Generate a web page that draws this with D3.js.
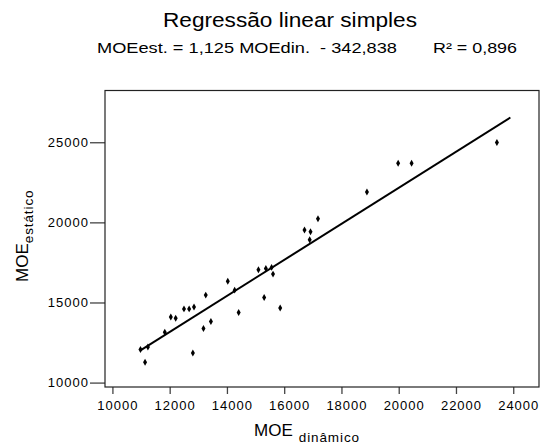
<!DOCTYPE html>
<html>
<head>
<meta charset="utf-8">
<script src="https://cdn.jsdelivr.net/npm/d3@7"></script>
<style>
  body { margin: 0; background: #fff; }
  text { font-family: "Liberation Sans", Arial, sans-serif; fill: #000; }
</style>
</head>
<body>
<div id="chart"></div>
<script>
// MOE dinamico (x) vs MOE estatico (y)
var moeDin = [10980, 11240, 11140, 11830, 12040, 12210, 12500, 12680, 12850, 12810,
  13260, 13180, 13440, 14030, 14270, 14410, 15100, 15360, 15560, 15610,
  15300, 15860, 16710, 16920, 16890, 17180, 18890, 19980, 20450, 23430];
var moeEst = [12060, 12220, 11270, 13140, 14100, 14020, 14600, 14600, 14720, 11850,
  15460, 13380, 13810, 16330, 15770, 14380, 17040, 17120, 17190, 16770,
  15310, 14660, 19520, 19410, 18910, 20220, 21890, 23690, 23690, 24980];

// fitted line: MOEest = 1,125 MOEdin - 342,838
var slope = 1.125;
var intercept = -342.838;
var lineRange = [10980, 23900];

var xTicks = [10000, 12000, 14000, 16000, 18000, 20000, 22000, 24000];
var yTicks = [10000, 15000, 20000, 25000];

var svgWidth = 556;
var svgHeight = 445;

var box = { left: 105, right: 539, top: 90.5, bottom: 387 };

var svg = d3.select("#chart")
  .append("svg")
  .attr("width", svgWidth)
  .attr("height", svgHeight);

var xScale = d3.scaleLinear()
  .domain([9741, 24900])
  .range([box.left, box.right]);

var yScale = d3.scaleLinear()
  .domain([9725, 28230])
  .range([box.bottom, box.top]);

// titles (the original text is drawn a bit wide, so stretch to its length)
svg.append("text")
  .attr("x", 163)
  .attr("y", 27)
  .attr("textLength", 254)
  .attr("lengthAdjust", "spacingAndGlyphs")
  .style("font-size", "19.5px")
  .text("Regressão linear simples");

svg.append("text")
  .attr("x", 97)
  .attr("y", 52.5)
  .attr("textLength", 300)
  .attr("lengthAdjust", "spacingAndGlyphs")
  .style("font-size", "14.5px")
  .style("white-space", "pre")
  .text("MOEest. = 1,125 MOEdin.  - 342,838");

svg.append("text")
  .attr("x", 433)
  .attr("y", 52.5)
  .attr("textLength", 84)
  .attr("lengthAdjust", "spacingAndGlyphs")
  .style("font-size", "14.5px")
  .text("R² = 0,896");

// x axis (ticks hang below the frame)
var xAxis = svg.append("g")
  .attr("transform", `translate(0, ${box.bottom})`)
  .call(d3.axisBottom(xScale).tickValues(xTicks).tickSize(7).tickFormat(d3.format("d")));

xAxis.select(".domain").remove();
xAxis.selectAll(".tick line").attr("stroke", "#444").attr("stroke-width", 1.3);
xAxis.selectAll(".tick text")
  .attr("x", 5)
  .attr("y", 14)
  .attr("dy", "0.71em")
  .style("font-size", "13px")
  .style("letter-spacing", "1px")
  .style("font-family", "'Liberation Sans', Arial, sans-serif")
  .attr("fill", "#000");

// y axis
var yAxis = svg.append("g")
  .attr("transform", `translate(${box.left}, 0)`)
  .call(d3.axisLeft(yScale).tickValues(yTicks).tickSize(15).tickPadding(1).tickFormat(d3.format("d")));

yAxis.select(".domain").remove();
yAxis.selectAll(".tick line").attr("stroke", "#444").attr("stroke-width", 1.3);
yAxis.selectAll(".tick text")
  .style("font-size", "13px")
  .style("letter-spacing", "1px")
  .style("font-family", "'Liberation Sans', Arial, sans-serif")
  .attr("fill", "#000");

// frame
svg.append("rect")
  .attr("x", box.left)
  .attr("y", box.top)
  .attr("width", box.right - box.left)
  .attr("height", box.bottom - box.top)
  .attr("fill", "none")
  .attr("stroke", "#222")
  .attr("stroke-width", 1.2);

// regression line
var lineData = lineRange.map(function(v) { return [v, slope * v + intercept]; });

svg.append("path")
  .datum(lineData)
  .attr("d", d3.line().x(d => xScale(d[0])).y(d => yScale(d[1])))
  .attr("fill", "none")
  .attr("stroke", "#000")
  .attr("stroke-width", 2);

// points
svg.selectAll(".pt")
  .data(moeDin)
  .enter()
  .append("path")
  .attr("class", "pt")
  .attr("transform", (d, i) => `translate(${xScale(d)}, ${yScale(moeEst[i])})`)
  .attr("d", d3.symbol().type(d3.symbolDiamond).size(14))
  .attr("fill", "#000");

// axis titles
var xLabel = svg.append("text")
  .attr("x", 254)
  .attr("y", 436)
  .style("font-size", "17px");
xLabel.append("tspan").text("MOE");
xLabel.append("tspan")
  .attr("dx", 6)
  .attr("dy", 6)
  .style("font-size", "13.5px")
  .style("letter-spacing", "0.9px")
  .text("dinâmico");

var yLabel = svg.append("text")
  .attr("transform", "translate(28, 282) rotate(-90)")
  .style("font-size", "17px");
yLabel.append("tspan").text("MOE");
yLabel.append("tspan")
  .attr("dy", 5)
  .style("font-size", "13.5px")
  .style("letter-spacing", "0.9px")
  .text("estático");
</script>
</body>
</html>
